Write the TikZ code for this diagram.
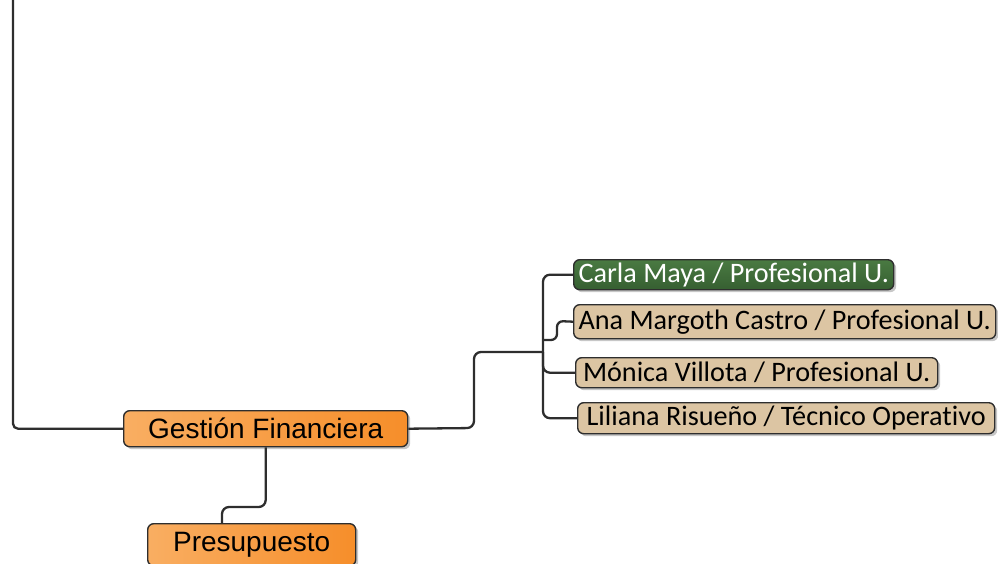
\documentclass[tikz,border=0pt]{standalone}
\usepackage{fontspec}
\setmainfont{Liberation Sans}
\newfontfamily\calfont[Ligatures=NoCommon]{Carlito}
\usetikzlibrary{shadows}
\definecolor{orangeA}{HTML}{F9AE62}
\definecolor{orangeB}{HTML}{F68E2A}
\definecolor{tanC}{HTML}{DCC5A3}
\definecolor{greenA}{HTML}{4A7A42}
\definecolor{greenB}{HTML}{365F31}
\definecolor{lineC}{HTML}{2E2E2E}
\begin{document}
\begin{tikzpicture}[x=1pt,y=-1pt,
  box/.style={draw=lineC, line width=1.4pt, rounded corners=6pt, inner sep=0pt, anchor=north west,
    drop shadow={shadow xshift=2.5pt,shadow yshift=-2.5pt,fill=black,opacity=0.22}},
  orangebox/.style={box, left color=orangeA, right color=orangeB, text=black, font=\fontsize{28}{30}\selectfont},
  person/.style={box, fill=tanC, text=black, font=\calfont\fontsize{28.2}{30}\selectfont},
  greenbox/.style={box, top color=greenA, bottom color=greenB, text=white, font=\calfont\fontsize{28.2}{30}\selectfont},
  conn/.style={draw=lineC, line width=2.3pt, rounded corners=7pt}]
\useasboundingbox (0,0) rectangle (998,563);
\clip (0,0) rectangle (998,563);

\node[orangebox, minimum width=284pt, minimum height=36pt] (gf) at (123,410) {Gestión Financiera};
\node[orangebox, minimum width=208pt, minimum height=42pt] (pres) at (147,523) {Presupuesto};
\node[greenbox, minimum width=320pt, minimum height=30pt] (carla) at (573,259) {Carla Maya / Profesional U.};
\node[person, minimum width=422pt, minimum height=34pt] (ana) at (573,304) {Ana Margoth Castro / Profesional U.};
\node[person, minimum width=362pt, minimum height=30pt] (monica) at (575,357) {Mónica Villota / Profesional U.};
\node[person, minimum width=417pt, minimum height=31pt] (liliana) at (577,402) {Liliana Risueño / Técnico Operativo};

\coordinate (top) at (13,-2);
\coordinate (hub) at (543,352);
\coordinate (anaturn) at (543,340);
\coordinate (presin) at ([xshift=75pt]pres.north west);

\draw[conn, rounded corners=5pt] (top) |- (gf.west);
\draw[conn] (gf.east) -- (474,428) -- (474,352) -- (hub);
\draw[conn] (hub) |- (carla.west);
\draw[conn] (hub) |- (monica.west);
\draw[conn] (hub) |- (liliana.west);
\draw[conn, rounded corners=6pt] (anaturn) -- (557,340) -- (557,321) -- (ana.west);
\draw[conn] (gf.south) |- (243,507) -| (presin);
\end{tikzpicture}
\end{document}
